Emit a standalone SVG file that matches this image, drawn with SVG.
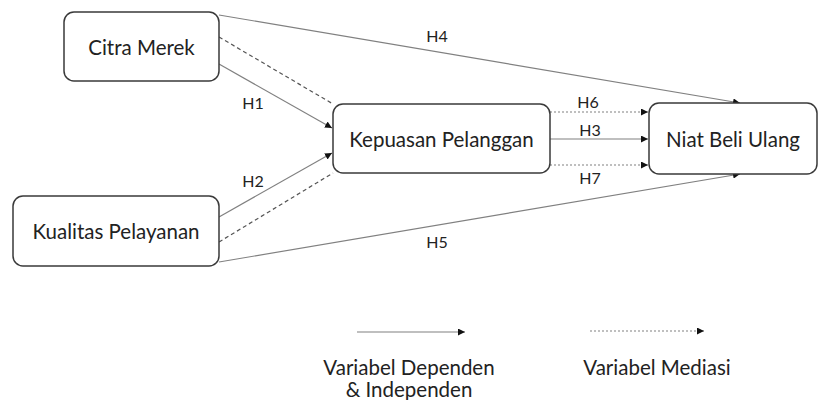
<svg xmlns="http://www.w3.org/2000/svg" width="819" height="400" viewBox="0 0 819 400">
<style>
.box{fill:#fff;stroke:#3a3a3a;stroke-width:1.5}
.t{font-family:Lato,"Open Sans","Liberation Sans",sans-serif;font-size:20.5px;fill:#222;text-anchor:middle;dominant-baseline:central}
.l{font-family:Lato,"Open Sans","Liberation Sans",sans-serif;font-size:16px;fill:#222;text-anchor:middle;dominant-baseline:central}
.s{fill:none;stroke:#808080;stroke-width:1.2}
.d{fill:none;stroke:#555;stroke-width:1.2;stroke-dasharray:4 3}
.p{fill:none;stroke:#808080;stroke-width:1.2;stroke-dasharray:2 2}
</style>
<defs>
<marker id="a" viewBox="0 0 10 10" refX="10" refY="5" markerWidth="7" markerHeight="7" markerUnits="userSpaceOnUse" orient="auto"><path d="M0,0 L10,5 L0,10 z" fill="#111"/></marker>
</defs>
<rect width="819" height="400" fill="#fff"/>
<g id="connectors">
<line class="s" x1="219" y1="15" x2="740" y2="103" marker-end="url(#a)"/>
<line class="s" x1="219" y1="262" x2="740" y2="174" marker-end="url(#a)"/>
<line class="d" x1="219" y1="37" x2="333" y2="104"/>
<line class="s" x1="219" y1="64" x2="332" y2="128" marker-end="url(#a)"/>
<line class="s" x1="219" y1="217" x2="332" y2="153" marker-end="url(#a)"/>
<line class="d" x1="219" y1="242" x2="333" y2="173"/>
<line class="p" x1="550" y1="112" x2="648" y2="112" marker-end="url(#a)"/>
<line class="s" x1="550" y1="139" x2="648" y2="139" marker-end="url(#a)"/>
<line class="p" x1="550" y1="165" x2="648" y2="165" marker-end="url(#a)"/>
<text class="l" x="437" y="35">H4</text>
<text class="l" x="253" y="102">H1</text>
<text class="l" x="253" y="180">H2</text>
<text class="l" x="437" y="241">H5</text>
<text class="l" x="588" y="101">H6</text>
<text class="l" x="590" y="129">H3</text>
<text class="l" x="590" y="177">H7</text>
</g>
<g id="citra"><rect class="box" x="64" y="12" width="155" height="69" rx="10"/><text class="t" x="141.5" y="47">Citra Merek</text></g>
<g id="kualitas"><rect class="box" x="13" y="196" width="206" height="70" rx="10"/><text class="t" x="116" y="231">Kualitas Pelayanan</text></g>
<g id="kepuasan"><rect class="box" x="333" y="104" width="217" height="69" rx="10"/><text class="t" x="441.5" y="139">Kepuasan Pelanggan</text></g>
<g id="niat"><rect class="box" x="649" y="103" width="168" height="71" rx="10"/><text class="t" x="733" y="139">Niat Beli Ulang</text></g>
<g id="legend">
<line class="s" x1="357" y1="332" x2="465" y2="332" marker-end="url(#a)"/>
<line class="p" x1="590" y1="331" x2="704" y2="331" marker-end="url(#a)"/>
<text class="t" x="409" y="367">Variabel Dependen</text>
<text class="t" x="409" y="389">&amp; Independen</text>
<text class="t" x="657" y="367">Variabel Mediasi</text>
</g>
</svg>
